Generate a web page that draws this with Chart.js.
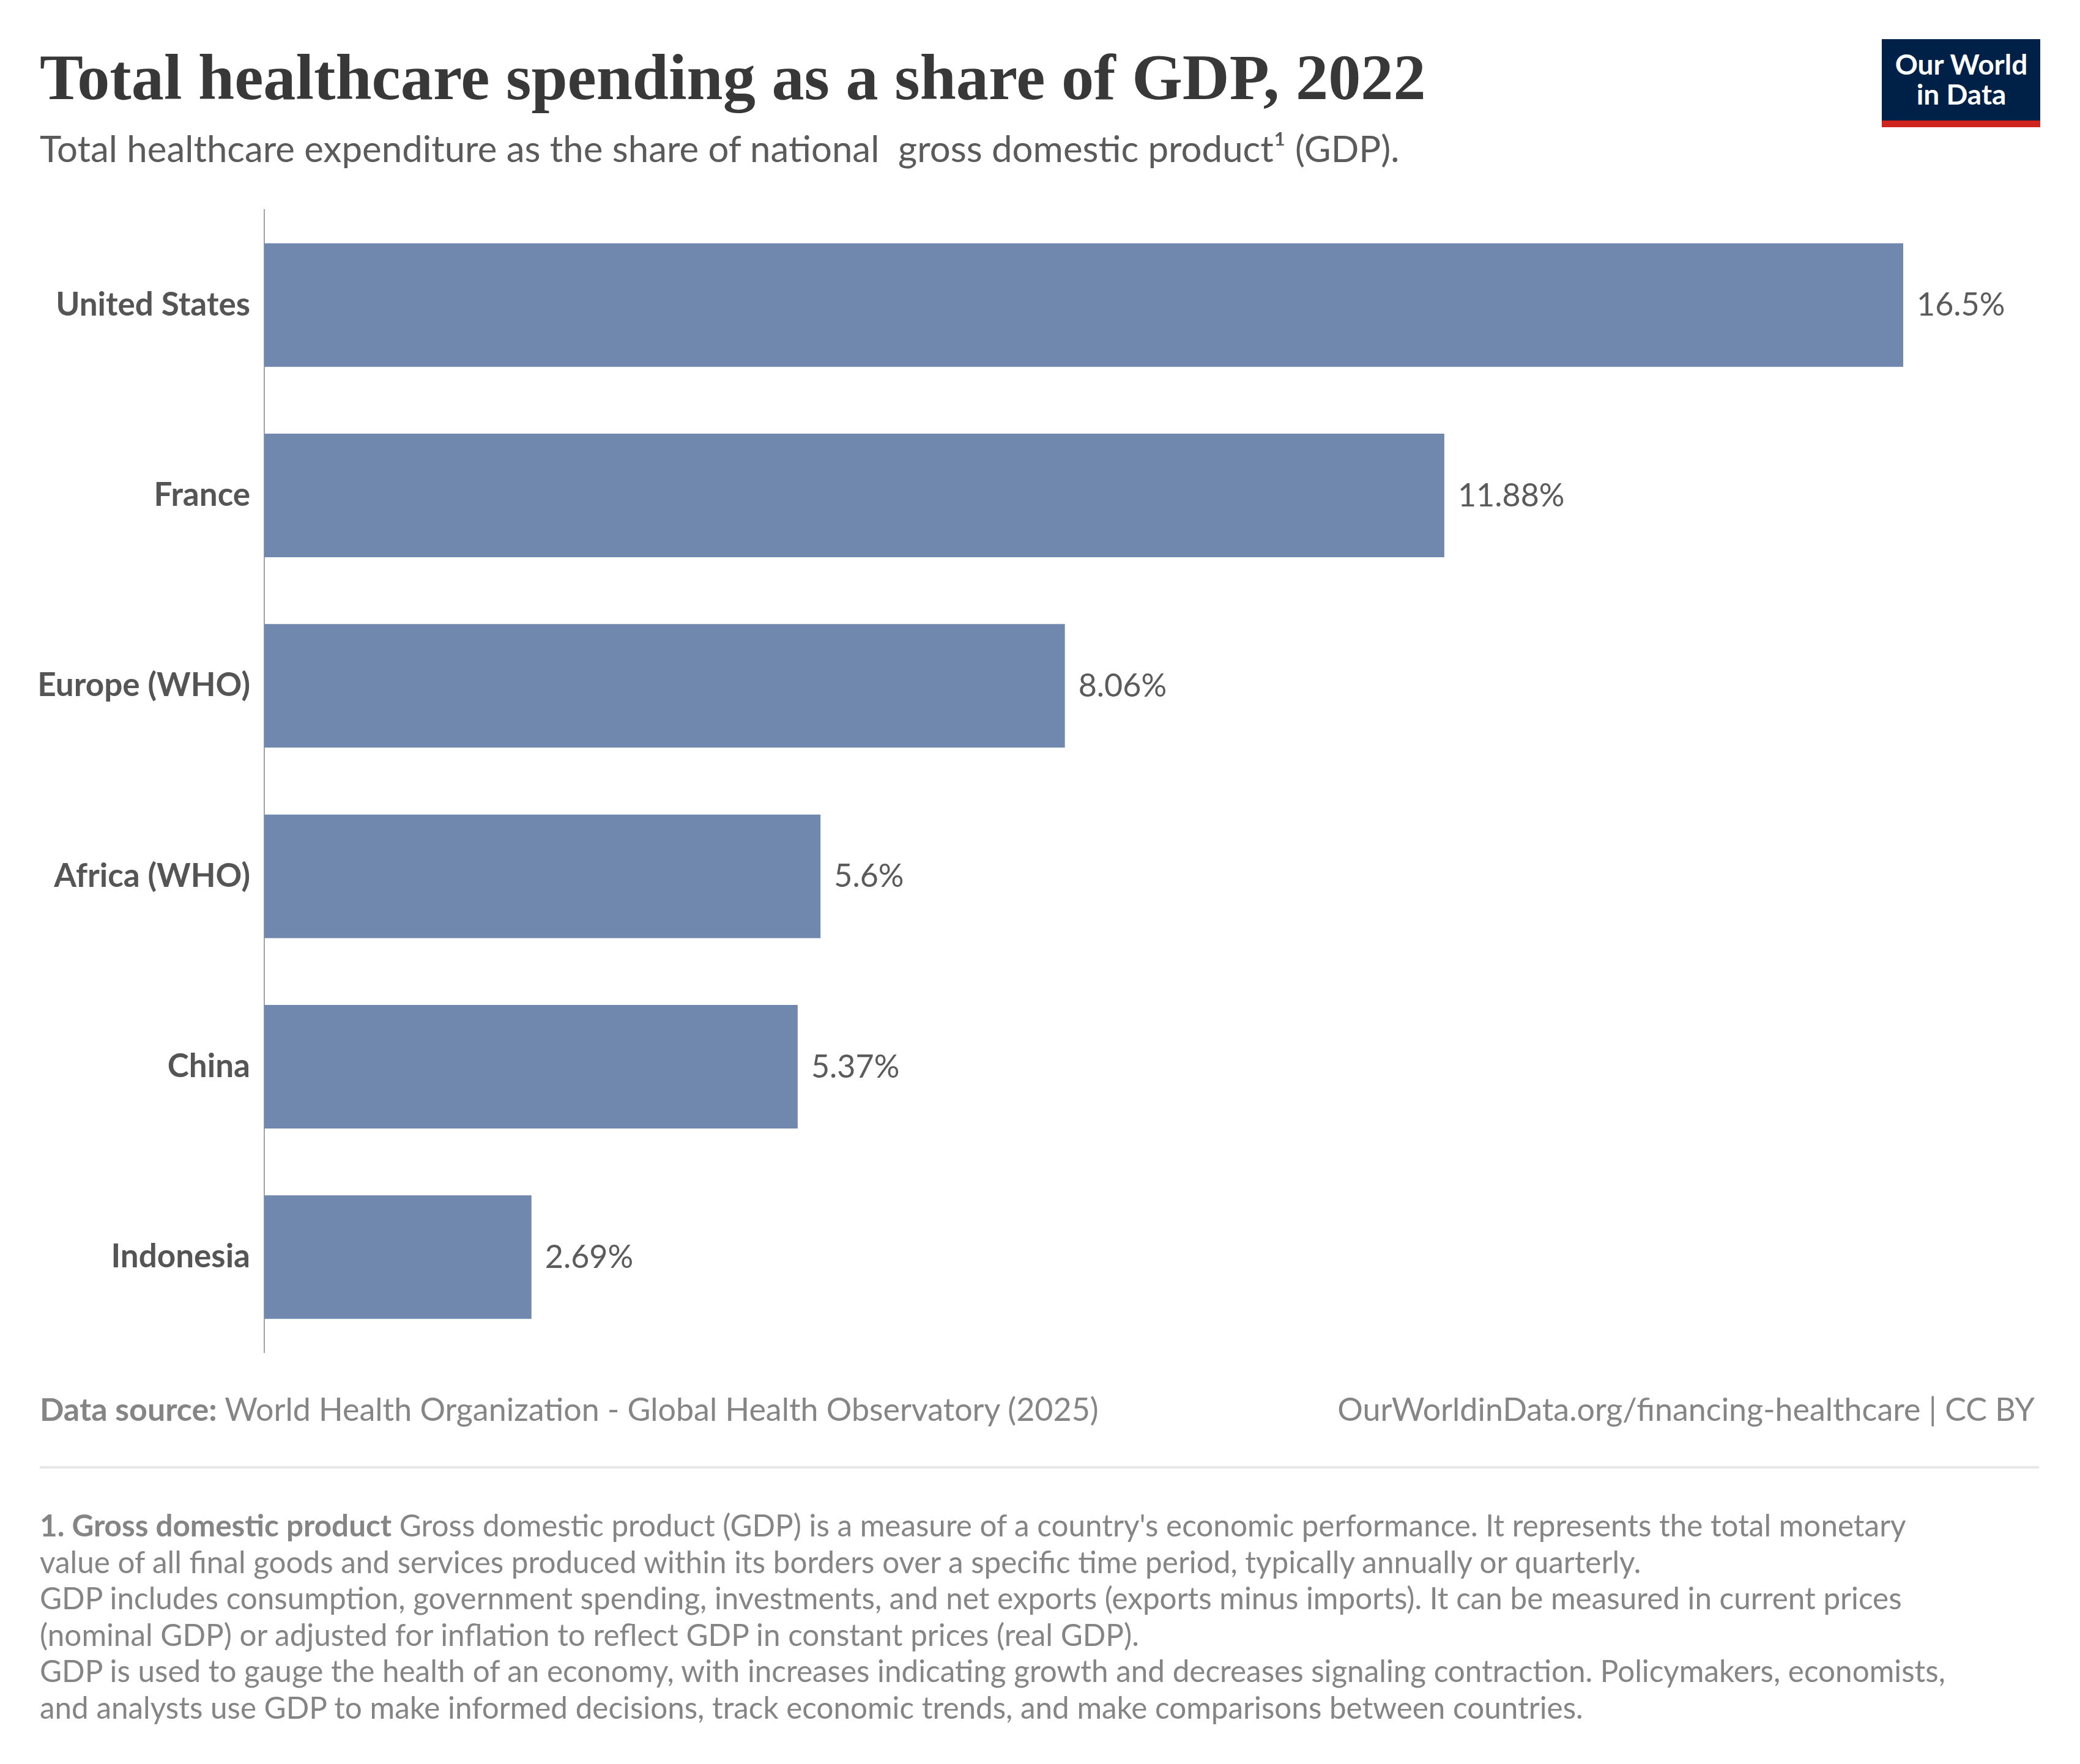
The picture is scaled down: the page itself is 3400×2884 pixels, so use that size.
<!DOCTYPE html>
<html>
<head>
<meta charset="utf-8">
<script src="https://cdn.jsdelivr.net/npm/chart.js@4.4.1/dist/chart.umd.min.js"></script>
<style>
  html, body { margin:0; padding:0; background:#fff; }
  body { width:3400px; height:2884px; position:relative; overflow:hidden; }
  .t { position:absolute; white-space:pre; left:0; top:0; margin:0; }
  #title { font-family:"Liberation Serif", serif; font-weight:bold; font-size:104px; color:#383838; }
  #subtitle { font-family:Lato, sans-serif; font-size:57px; color:#5b5b5b; }
  .foot { font-family:Lato, sans-serif; font-size:50px; color:#858585; }
  .note { font-family:Lato, sans-serif; font-size:47px; color:#858585; }
  b { font-weight:700; }
  #logo { position:absolute; left:3076px; top:64px; width:259px; height:144px; background:#002147; }
  #logoRed { position:absolute; left:3076px; top:197px; width:259px; height:11px; background:#ce261e; }
  .lg { font-family:Lato, sans-serif; font-weight:700; font-size:46px; color:#fff; }
  #sep { position:absolute; left:65px; top:2397px; width:3268px; height:4px; background:#e7e7e7; }
</style>
</head>
<body>
<canvas id="c" width="3400" height="2884" style="position:absolute;left:0;top:0;width:3400px;height:2884px"></canvas>
<div id="title" class="t">Total healthcare spending as a share of GDP, 2022</div>
<div id="subtitle" class="t">Total healthcare expenditure as the share of national  gross domestic product¹ (GDP).</div>
<div id="logo"></div>
<div id="logoRed"></div>
<div id="lg1" class="t lg">Our World</div>
<div id="lg2" class="t lg">in Data</div>
<div id="srcL" class="t foot"><b>Data source:</b> World Health Organization - Global Health Observatory (2025)</div>
<div id="srcR" class="t foot">OurWorldinData.org/financing-healthcare | CC BY</div>
<div id="sep"></div>
<div id="n1" class="t note"><b>1. Gross domestic product</b> Gross domestic product (GDP) is a measure of a country's economic performance. It represents the total monetary</div>
<div id="n2" class="t note">value of all final goods and services produced within its borders over a specific time period, typically annually or quarterly.</div>
<div id="n3" class="t note">GDP includes consumption, government spending, investments, and net exports (exports minus imports). It can be measured in current prices</div>
<div id="n4" class="t note">(nominal GDP) or adjusted for inflation to reflect GDP in constant prices (real GDP).</div>
<div id="n5" class="t note">GDP is used to gauge the health of an economy, with increases indicating growth and decreases signaling contraction. Policymakers, economists,</div>
<div id="n6" class="t note">and analysts use GDP to make informed decisions, track economic trends, and make comparisons between countries.</div>

<script>
// ---- data ----
const categories = ['United States', 'France', 'Europe (WHO)', 'Africa (WHO)', 'China', 'Indonesia'];
const shareOfGdp = [16.5, 11.88, 8.06, 5.6, 5.37, 2.69];
const valueSuffix = '%';

// ---- text layout helpers ----
function baselineOf(el) {
  const m = document.createElement('span');
  m.style.cssText = 'display:inline-block;width:0;height:0;vertical-align:baseline';
  el.appendChild(m);
  const y = m.getBoundingClientRect().top;
  el.removeChild(m);
  return y;
}
function fitWidth(el, w) {
  const r = el.getBoundingClientRect().width;
  const fs = parseFloat(getComputedStyle(el).fontSize);
  const nfs = fs * w / r;
  el.style.fontSize = nfs + 'px';
  return nfs;
}
function place(el, x, base, align) {
  el.style.top = '0px';
  const w = el.getBoundingClientRect().width;
  if (align === 'right') el.style.left = (x - w) + 'px';
  else if (align === 'center') el.style.left = (x - w / 2) + 'px';
  else el.style.left = x + 'px';
  const b = baselineOf(el);
  el.style.top = (base - b) + 'px';
}
function $(id) { return document.getElementById(id); }

function layoutText() {
  fitWidth($('title'), 2266);
  place($('title'), 65, 162);
  fitWidth($('subtitle'), 2223);
  place($('subtitle'), 65, 265);
  place($('lg1'), 3206, 122, 'center');
  place($('lg2'), 3206, 171, 'center');
  const fsF = fitWidth($('srcL'), 1731);
  $('srcR').style.fontSize = fsF + 'px';
  place($('srcL'), 65, 2323);
  place($('srcR'), 3326, 2323, 'right');
  const fsN = fitWidth($('n1'), 3051);
  const bases = [2512, 2571.5, 2631, 2690.5, 2750, 2809.5];
  for (let i = 1; i <= 6; i++) {
    const el = $('n' + i);
    el.style.fontSize = fsN + 'px';
    place(el, 65, bases[i - 1]);
  }
}
layoutText();

// ---- chart ----
const valueLabels = {
  id: 'valueLabels',
  afterDatasetsDraw(chart) {
    const ctx = chart.ctx;
    const meta = chart.getDatasetMeta(0);
    ctx.save();
    ctx.font = '400 52px Lato';
    ctx.fillStyle = '#5b5b5b';
    ctx.textAlign = 'left';
    ctx.textBaseline = 'middle';
    meta.data.forEach((bar, i) => {
      ctx.fillText(String(shareOfGdp[i]) + valueSuffix, bar.x + 22, bar.y + 1);
    });
    ctx.restore();
  }
};

new Chart(document.getElementById('c'), {
  type: 'bar',
  data: {
    labels: categories,
    datasets: [{
      data: shareOfGdp,
      backgroundColor: '#7088ae',
      borderWidth: 0,
      barPercentage: 0.649,
      categoryPercentage: 1
    }]
  },
  options: {
    indexAxis: 'y',
    responsive: false,
    animation: false,
    devicePixelRatio: 1,
    layout: { padding: { top: 343, bottom: 673, right: 289, left: 0 } },
    plugins: { legend: { display: false }, tooltip: { enabled: false } },
    scales: {
      x: { display: false, min: 0, max: 16.5 },
      y: {
        grid: { display: false, drawTicks: false },
        border: { display: true, color: '#a1a1a1', width: 2 },
        ticks: { font: { family: 'Lato', size: 53, weight: 'bold' }, color: '#555555', padding: 23 },
        afterFit(scale) { scale.width = 432; }
      }
    }
  },
  plugins: [valueLabels]
});
</script>
</body>
</html>
